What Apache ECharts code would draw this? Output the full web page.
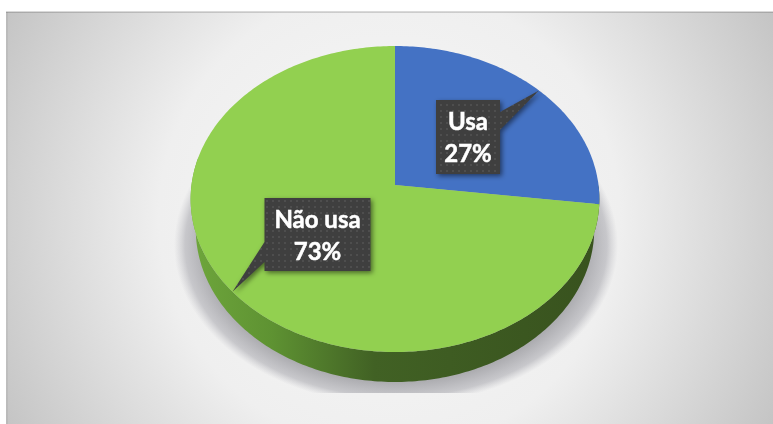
<!DOCTYPE html>
<html><head><meta charset="utf-8">
<style>html,body{margin:0;padding:0;background:#fff}#c{width:773px;height:424px}</style>
<script src="https://cdn.jsdelivr.net/npm/echarts@6/dist/echarts.min.js"></script>
</head><body><div id="c"></div>
<script>
const categories = ['Usa', 'Não usa'];
const values = [27, 73];
const sliceColors = ['#4472c4', '#92d050'];

// perspective disc geometry
const apex = {x: 395, y: 185}, A = 203.5, B = 151.7, k = 0.0915;
const depth = 30, baseScale = 0.975;
const boxes = [
  {x: 436, y: 100, w: 64, h: 74},
  {x: 264.5, y: 198, w: 106, h: 73}
];
const total = values.reduce((a, b) => a + b, 0);
function proj(frac) {
  const t = frac * 2 * Math.PI, u = Math.sin(t), v = -Math.cos(t), d = 1 - k * v;
  return [apex.x + A * u / d, apex.y + B * v / d];
}
function arc(f0, f1) {
  const pts = [], n = Math.max(4, Math.round((f1 - f0) * 400));
  for (let i = 0; i <= n; i++) pts.push(proj(f0 + (f1 - f0) * i / n));
  return pts;
}
function startOf(i) { let s = 0; for (let j = 0; j < i; j++) s += values[j]; return s / total; }

const dot = document.createElement('canvas');
dot.width = dot.height = 6;
(function () {
  const g = dot.getContext('2d');
  g.fillStyle = '#3f3f3f'; g.fillRect(0, 0, 6, 6);
  g.fillStyle = '#4e4e4e'; g.fillRect(2, 2, 2, 2);
})();

function renderBase() {
  const top = arc(0.25, 0.78);
  const bottom = top.map(p => [apex.x + (p[0] - apex.x) * baseScale, p[1] + depth]).reverse();
  return {type: 'group', children: [
    {type: 'group', x: 396, y: 245, scaleY: 0.72, children: [
      {type: 'circle', shape: {cx: 0, cy: 0, r: 222},
       clipPath: {type: 'rect', shape: {x: -300, y: -300, width: 600, height: 300 + 148 / 0.72}},
       style: {fill: {type: 'radial', x: 0.5, y: 0.5, r: 0.5, colorStops: [
         {offset: 0, color: 'rgba(150,150,155,0.75)'}, {offset: 0.86, color: 'rgba(150,150,155,0.75)'},
         {offset: 0.95, color: 'rgba(150,150,158,0.45)'}, {offset: 1, color: 'rgba(170,170,178,0)'}]}}}
    ]},
    {type: 'polygon', shape: {points: top.concat(bottom)},
     style: {fill: {type: 'linear', x: 0, y: 0, x2: 1, y2: 0, colorStops: [
       {offset: 0, color: '#6ea63c'}, {offset: 0.2, color: '#5e9232'},
       {offset: 0.45, color: '#416124'}, {offset: 1, color: '#38521e'}]}}}
  ]};
}
function renderSlice(params, api) {
  const i = params.dataIndex, s = startOf(i), e = s + api.value(0) / total;
  return {type: 'polygon', shape: {points: [[apex.x, apex.y]].concat(arc(s, e))},
    style: {fill: sliceColors[i]}};
}
function renderCallout(params, api) {
  const i = params.dataIndex, b = boxes[i], val = api.value(0);
  const tip = proj(startOf(i) + val / total / 2);
  const r = b.x + b.w, m = b.y + b.h;
  const pts = i === 0
    ? [[b.x, b.y], [r, b.y], [r, b.y + 12], tip, [r, b.y + 30], [r, m], [b.x, m]]
    : [[b.x, b.y], [r, b.y], [r, m], [b.x, m], [b.x, m - 9], tip, [b.x, m - 29]];
  return {type: 'group', children: [
    {type: 'polygon', shape: {points: pts},
     style: {fill: {image: dot, repeat: 'repeat'}, shadowBlur: 5, shadowOffsetX: 2, shadowOffsetY: 2, shadowColor: 'rgba(0,0,0,0.5)'}},
    {type: 'text', x: b.x + b.w / 2, y: b.y + b.h / 2 + 1.5,
     style: {text: categories[i] + '\n' + val + '%', fill: '#fff', font: 'bold 24px Lato', lineHeight: 32,
       align: 'center', verticalAlign: 'middle', stroke: '#fff', lineWidth: 0.5}}
  ]};
}

const chart = echarts.init(document.getElementById('c'), null, {renderer: 'canvas'});
chart.setOption({
  animation: false,
  graphic: [
    {type: 'rect', z: -10, shape: {x: 6, y: 12, width: 767, height: 412},
     style: {fill: {type: 'radial', x: 0.5, y: 0.5, r: 1.12, colorStops: [
       {offset: 0, color: '#f8f8f8'}, {offset: 0.5, color: '#efefef'}, {offset: 1, color: '#bfbfbf'}]}}},
    {type: 'rect', z: -9, shape: {x: 6, y: 12, width: 2, height: 412}, style: {fill: 'rgba(0,0,0,0.05)'}},
    {type: 'rect', z: -9, shape: {x: 6, y: 11, width: 767, height: 2}, style: {fill: 'rgba(0,0,0,0.15)'}}
  ],
  series: [
    {type: 'custom', coordinateSystem: 'none', silent: true, renderItem: renderBase, data: [total], z: 1},
    {type: 'custom', coordinateSystem: 'none', silent: true, renderItem: renderSlice, data: values, z: 2},
    {type: 'custom', coordinateSystem: 'none', silent: true, renderItem: renderCallout, data: values, z: 3}
  ]
});
</script></body></html>
